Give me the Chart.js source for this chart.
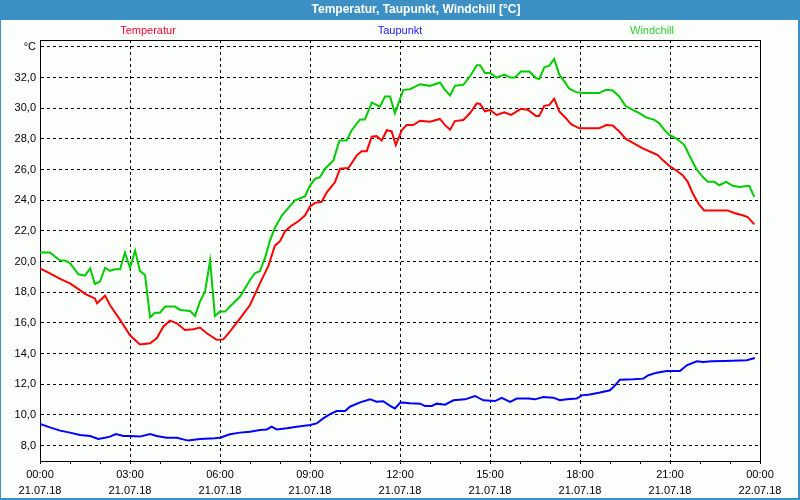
<!DOCTYPE html>
<html><head><meta charset="utf-8">
<script src="https://cdn.jsdelivr.net/npm/chart.js@4"></script>
<style>html,body{margin:0;padding:0;background:#fcfefc;}canvas{display:block}</style>
</head><body>
<canvas id="c" width="800" height="500"></canvas>
<script>
const titleText = 'Temperatur, Taupunkt, Windchill [°C]';
const seriesNames = ['Temperatur', 'Taupunkt', 'Windchill'];
const xTickTimes = ['00:00','03:00','06:00','09:00','12:00','15:00','18:00','21:00','00:00'];
const xTickDates = ['21.07.18','21.07.18','21.07.18','21.07.18','21.07.18','21.07.18','21.07.18','21.07.18','22.07.18'];
const yTickValues = [8,10,12,14,16,18,20,22,24,26,28,30,32,34];

const tempHours = [0,0.33,0.67,1.0,1.33,1.5,1.83,1.9,2.17,2.33,2.67,3.0,3.33,3.67,3.89,4.11,4.33,4.56,4.83,5.11,5.33,5.56,5.89,6.11,6.33,6.67,7.0,7.17,7.39,7.61,7.83,8.0,8.17,8.39,8.61,8.83,9.0,9.17,9.39,9.56,9.83,10.0,10.28,10.56,10.72,10.89,11.06,11.22,11.39,11.56,11.72,11.86,12.06,12.22,12.44,12.67,13.0,13.33,13.5,13.67,13.83,14.11,14.33,14.56,14.67,14.83,15.0,15.22,15.48,15.7,16.03,16.26,16.53,16.64,16.81,16.98,17.14,17.31,17.53,17.7,17.98,18.31,18.64,18.87,19.09,19.31,19.53,19.81,20.09,20.42,20.59,20.76,20.98,21.2,21.42,21.59,21.76,21.96,22.14,22.53,22.92,23.14,23.42,23.59,23.81];
const tempValues = [19.56,19.24,18.87,18.58,18.14,17.9,17.6,17.28,17.78,17.17,16.2,15.2,14.6,14.67,15.0,15.76,16.15,15.98,15.54,15.59,15.7,15.33,14.9,14.93,15.43,16.3,17.17,17.9,18.83,19.7,21.04,21.33,21.98,22.35,22.63,23.0,23.6,23.83,23.9,24.52,25.17,26.06,26.1,26.93,27.2,27.2,28.14,28.18,27.9,28.57,28.5,27.6,28.57,28.9,28.9,29.19,29.12,29.3,28.9,28.6,29.16,29.23,29.67,30.32,30.28,29.8,29.89,29.56,29.74,29.57,29.96,29.9,29.5,29.5,30.16,30.22,30.62,29.79,29.35,28.96,28.69,28.69,28.69,28.9,28.87,28.48,28.0,27.7,27.38,27.1,26.95,26.62,26.23,25.96,25.64,25.2,24.44,23.74,23.34,23.34,23.34,23.17,23.02,22.9,22.43];

const dewHours = [0,0.33,0.67,1.0,1.33,1.67,1.94,2.17,2.33,2.53,2.78,3.0,3.33,3.67,3.89,4.22,4.56,4.94,5.33,5.83,6.0,6.33,6.67,7.0,7.33,7.56,7.72,7.89,8.22,8.56,9.0,9.22,9.44,9.67,9.89,10.17,10.33,10.67,11.0,11.22,11.44,11.67,11.83,12.02,12.33,12.67,12.83,13.06,13.22,13.5,13.78,14.17,14.5,14.78,15.17,15.39,15.67,15.89,16.28,16.5,16.78,17.11,17.33,17.56,17.89,18.06,18.33,18.67,19.0,19.17,19.33,19.78,20.11,20.28,20.56,20.89,21.33,21.56,21.89,22.11,22.39,22.83,23.56,23.83];
const dewValues = [9.41,9.19,8.98,8.85,8.7,8.63,8.44,8.52,8.59,8.76,8.63,8.63,8.59,8.76,8.63,8.52,8.52,8.33,8.44,8.48,8.52,8.74,8.85,8.91,9.02,9.06,9.24,9.06,9.13,9.24,9.35,9.45,9.78,10.06,10.26,10.26,10.54,10.82,11.03,10.86,10.9,10.6,10.43,10.82,10.76,10.74,10.59,10.59,10.74,10.67,10.96,11.02,11.24,10.96,10.91,11.11,10.85,11.07,11.07,11.02,11.17,11.13,10.96,11.02,11.07,11.28,11.33,11.46,11.61,11.93,12.3,12.33,12.37,12.59,12.76,12.87,12.87,13.24,13.5,13.46,13.5,13.52,13.57,13.72];

const windHours = [0,0.33,0.67,0.83,1.0,1.28,1.5,1.67,1.83,2.0,2.17,2.33,2.5,2.67,2.83,3.0,3.17,3.33,3.5,3.67,3.83,4.0,4.17,4.5,4.67,5.0,5.17,5.33,5.5,5.67,5.83,6.0,6.17,6.33,6.67,7.0,7.17,7.33,7.5,7.67,7.83,8.06,8.28,8.5,8.83,9.0,9.17,9.33,9.5,9.78,9.98,10.22,10.39,10.67,10.83,11.06,11.33,11.5,11.67,11.83,12.11,12.33,12.67,13.0,13.33,13.5,13.67,13.83,14.11,14.33,14.56,14.67,14.83,15.0,15.22,15.48,15.67,15.83,16.03,16.31,16.53,16.64,16.81,16.98,17.14,17.31,17.48,17.64,17.87,18.09,18.64,18.87,19.09,19.31,19.51,19.76,19.98,20.2,20.48,20.64,20.81,20.98,21.2,21.48,21.64,21.87,22.09,22.26,22.48,22.64,22.87,23.09,23.31,23.64,23.81];
const windValues = [20.59,20.59,20.07,20.07,19.9,19.17,19.09,19.56,18.54,18.7,19.6,19.4,19.5,19.5,20.59,19.6,20.72,19.4,19.13,16.37,16.67,16.67,17.07,17.07,16.85,16.78,16.46,17.39,18.04,20.07,16.46,16.74,16.74,17.07,17.72,18.8,19.26,19.37,20.24,21.4,22.2,23.0,23.5,24.0,24.25,24.96,25.4,25.5,26.06,26.6,27.9,27.9,28.57,29.27,29.27,30.37,30.1,30.76,30.76,29.67,31.2,31.24,31.57,31.46,31.68,31.2,30.83,31.46,31.53,32.07,32.8,32.8,32.3,32.3,32.0,32.19,32.0,32.0,32.4,32.4,31.97,31.9,32.67,32.78,33.21,32.19,31.75,31.27,31.05,30.99,30.99,31.2,31.16,30.77,30.16,29.9,29.68,29.4,29.24,29.02,28.59,28.26,28.04,27.6,26.95,26.07,25.53,25.2,25.2,24.98,25.2,24.94,24.87,24.94,24.22];

const seriesColors = ['#ff0000', '#0000ff', '#00cc00'];
const legendColors = ['#ff0030', '#2020ff', '#30d030'];
const FONT = '"Liberation Sans", Arial, sans-serif';

function pts(h, v) { return h.map((x, i) => ({ x: x, y: v[i] })); }

const framePlugin = {
  id: 'frame',
  beforeDraw(chart) {
    const ctx = chart.ctx, W = chart.width, H = chart.height, a = chart.chartArea;
    ctx.save();
    ctx.fillStyle = '#fcfefc';
    ctx.fillRect(0, 0, W, H);
    ctx.fillStyle = '#3c90c4';
    ctx.fillRect(0, 0, W, 20);
    ctx.fillRect(0, 0, 1, H);
    ctx.fillRect(W - 2, 0, 2, H);
    ctx.fillRect(0, H - 2, W, 2);
    ctx.fillStyle = '#ffffff';
    ctx.font = 'bold 12px ' + FONT;
    ctx.textAlign = 'center';
    ctx.textBaseline = 'middle';
    ctx.fillText(titleText, 416, 10);
    ctx.font = '11px ' + FONT;
    const fr = [0.15, 0.5, 0.85];
    seriesNames.forEach((n, i) => {
      ctx.fillStyle = legendColors[i];
      ctx.fillText(n, a.left + (a.right - a.left) * fr[i], 31);
    });
    ctx.restore();
  },
  afterDraw(chart) {
    const ctx = chart.ctx, a = chart.chartArea;
    ctx.save();
    ctx.strokeStyle = '#000';
    ctx.lineWidth = 1;
    ctx.beginPath();
    ctx.moveTo(Math.round(a.left) + 0.5, Math.round(a.top) + 0.5);
    ctx.lineTo(Math.round(a.right) + 0.5, Math.round(a.top) + 0.5);
    ctx.lineTo(Math.round(a.right) + 0.5, Math.round(a.bottom) + 0.5);
    ctx.stroke();
    ctx.restore();
  }
};

const hourTicks = Array.from({ length: 25 }, (_, i) => i);

new Chart(document.getElementById('c'), {
  type: 'line',
  data: {
    datasets: [
      { label: seriesNames[0], data: pts(tempHours, tempValues), borderColor: seriesColors[0] },
      { label: seriesNames[1], data: pts(dewHours, dewValues), borderColor: seriesColors[1] },
      { label: seriesNames[2], data: pts(windHours, windValues), borderColor: seriesColors[2] }
    ]
  },
  options: {
    responsive: false,
    animation: false,
    events: [],
    devicePixelRatio: 1,
    layout: { padding: { top: 40, right: 40, bottom: 0, left: 0 } },
    elements: { line: { borderWidth: 2, tension: 0, fill: false }, point: { radius: 0 } },
    plugins: { legend: { display: false }, title: { display: false }, tooltip: { enabled: false } },
    scales: {
      x: {
        type: 'linear', min: 0, max: 24,
        afterBuildTicks: s => { s.ticks = hourTicks.map(v => ({ value: v })); },
        afterFit: s => { s.height = 39; },
        grid: {
          color: c => (c.tick && c.tick.value % 3 === 0) ? '#000' : 'rgba(0,0,0,0)',
          tickColor: '#000', tickLength: 3, lineWidth: 1, drawTicks: true
        },
        border: { display: true, color: '#000', width: 1, dash: [3, 3] },
        ticks: {
          autoSkip: false, maxRotation: 0, padding: 3, color: '#000',
          font: { family: FONT, size: 11, lineHeight: 1.45 },
          callback: v => (v % 3 === 0) ? [xTickTimes[v / 3], xTickDates[v / 3]] : ''
        }
      },
      y: {
        min: 7, max: 34.45,
        afterBuildTicks: s => { s.ticks = yTickValues.map(v => ({ value: v })); },
        afterFit: s => { s.width = 40; },
        grid: { color: '#000', drawTicks: false, lineWidth: 1 },
        border: { display: true, color: '#000', width: 1, dash: [3, 3] },
        ticks: {
          padding: 4, color: '#000',
          font: { family: FONT, size: 11 },
          callback: v => v === 34 ? '°C' : v.toFixed(1).replace('.', ',')
        }
      }
    }
  },
  plugins: [framePlugin]
});
</script>
</body></html>
